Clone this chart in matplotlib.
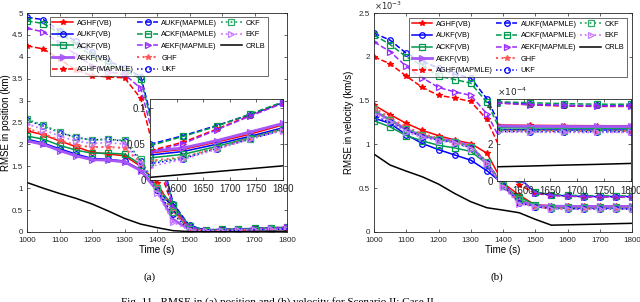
import numpy as np
import matplotlib
matplotlib.use("Agg")
import matplotlib.pyplot as plt
from matplotlib.lines import Line2D

plt.rcParams['font.family'] = ['Liberation Sans', 'DejaVu Sans']

# ---------------- data ----------------
time = [1000, 1050, 1100, 1150, 1200, 1250, 1300, 1350, 1400, 1450,
        1500, 1550, 1600, 1650, 1700, 1750, 1800]
inset_time = [1550, 1612.5, 1675, 1737.5, 1800]

labels = ['AGHF(VB)', 'AUKF(VB)', 'ACKF(VB)', 'AEKF(VB)', 'AGHF(MAPMLE)',
          'AUKF(MAPMLE)', 'ACKF(MAPMLE)', 'AEKF(MAPMLE)', 'GHF', 'UKF',
          'CKF', 'EKF', 'CRLB']

# position RMSE (km)
pos_aghf_vb = [2.31, 2.22, 2.08, 1.95, 1.82, 1.78, 1.74, 1.50, 1.12, 0.50, 0.08, 0.037, 0.041, 0.050, 0.058, 0.067, 0.076]
pos_aukf_vb = [2.12, 2.03, 1.90, 1.78, 1.68, 1.66, 1.62, 1.42, 0.98, 0.56, 0.15, 0.034, 0.038, 0.047, 0.055, 0.064, 0.072]
pos_ackf_vb = [2.19, 2.12, 1.98, 1.87, 1.80, 1.80, 1.78, 1.54, 1.00, 0.62, 0.10, 0.030, 0.034, 0.044, 0.053, 0.062, 0.070]
pos_aekf_vb = [2.08, 2.00, 1.86, 1.74, 1.65, 1.64, 1.60, 1.40, 0.95, 0.28, 0.06, 0.039, 0.043, 0.052, 0.061, 0.070, 0.078]
pos_aghf_map = [4.25, 4.18, 3.95, 3.70, 3.57, 3.54, 3.52, 3.05, 1.60, 0.55, 0.10, 0.040, 0.050, 0.065, 0.080, 0.094, 0.107]
pos_aukf_map = [4.90, 4.85, 4.60, 4.35, 4.10, 3.90, 3.75, 3.55, 2.10, 0.65, 0.14, 0.049, 0.059, 0.071, 0.083, 0.095, 0.107]
pos_ackf_map = [4.82, 4.76, 4.55, 4.28, 4.02, 3.84, 3.68, 3.50, 2.00, 0.62, 0.13, 0.047, 0.058, 0.070, 0.083, 0.096, 0.108]
pos_aekf_map = [4.65, 4.57, 4.32, 4.05, 3.80, 3.66, 3.60, 3.28, 1.85, 0.55, 0.11, 0.038, 0.048, 0.063, 0.079, 0.093, 0.106]
pos_ghf = [2.36, 2.24, 2.10, 1.98, 1.94, 1.94, 1.92, 1.58, 1.05, 0.48, 0.06, 0.026, 0.030, 0.041, 0.052, 0.062, 0.070]
pos_ukf = [2.55, 2.42, 2.27, 2.16, 2.10, 2.12, 2.07, 1.62, 0.95, 0.40, 0.06, 0.022, 0.028, 0.040, 0.051, 0.061, 0.069]
pos_ckf = [2.57, 2.44, 2.28, 2.16, 2.10, 2.12, 2.09, 1.66, 1.00, 0.45, 0.06, 0.024, 0.029, 0.041, 0.052, 0.062, 0.070]
pos_ekf = [2.47, 2.34, 2.19, 2.08, 2.02, 2.04, 2.01, 1.58, 0.90, 0.22, 0.04, 0.018, 0.026, 0.039, 0.050, 0.060, 0.068]
pos_crlb = [1.13, 1.00, 0.88, 0.77, 0.64, 0.48, 0.31, 0.18, 0.10, 0.03, 0.010, 0.003, 0.006, 0.009, 0.012, 0.016, 0.019]

# position inset (km)
ipos_aghf_vb = [0.037, 0.042, 0.052, 0.063, 0.076]
ipos_aukf_vb = [0.034, 0.039, 0.049, 0.060, 0.072]
ipos_ackf_vb = [0.030, 0.035, 0.046, 0.058, 0.070]
ipos_aekf_vb = [0.039, 0.044, 0.054, 0.066, 0.078]
ipos_aghf_map = [0.040, 0.052, 0.070, 0.089, 0.107]
ipos_aukf_map = [0.049, 0.061, 0.075, 0.090, 0.107]
ipos_ackf_map = [0.047, 0.060, 0.074, 0.091, 0.108]
ipos_aekf_map = [0.038, 0.050, 0.069, 0.088, 0.106]
ipos_ghf = [0.026, 0.031, 0.044, 0.057, 0.070]
ipos_ukf = [0.022, 0.029, 0.043, 0.056, 0.069]
ipos_ckf = [0.024, 0.030, 0.044, 0.057, 0.070]
ipos_ekf = [0.018, 0.028, 0.042, 0.056, 0.068]
ipos_crlb = [0.003, 0.007, 0.011, 0.015, 0.019]

# velocity RMSE (x1e-3 km/s)
vel_aghf_vb = [1.45, 1.34, 1.24, 1.16, 1.10, 1.05, 1.01, 0.90, 0.56, 0.42, 0.31, 0.300, 0.298, 0.297, 0.296, 0.296, 0.296]
vel_aukf_vb = [1.30, 1.24, 1.11, 1.01, 0.94, 0.88, 0.82, 0.70, 0.55, 0.37, 0.29, 0.274, 0.274, 0.273, 0.273, 0.273, 0.273]
vel_ackf_vb = [1.27, 1.20, 1.10, 1.04, 0.99, 0.96, 0.92, 0.78, 0.52, 0.40, 0.31, 0.285, 0.284, 0.283, 0.283, 0.283, 0.283]
vel_aekf_vb = [1.38, 1.28, 1.17, 1.10, 1.06, 1.04, 0.98, 0.78, 0.53, 0.35, 0.30, 0.295, 0.293, 0.292, 0.292, 0.292, 0.292]
vel_aghf_map = [2.00, 1.92, 1.78, 1.65, 1.56, 1.53, 1.49, 1.285, 0.88, 0.54, 0.44, 0.420, 0.410, 0.402, 0.400, 0.400, 0.400]
vel_aukf_map = [2.27, 2.19, 2.04, 1.95, 1.87, 1.80, 1.76, 1.52, 1.15, 0.62, 0.45, 0.422, 0.412, 0.405, 0.405, 0.405, 0.405]
vel_ackf_map = [2.25, 2.14, 2.00, 1.90, 1.78, 1.74, 1.70, 1.48, 1.10, 0.60, 0.46, 0.425, 0.420, 0.415, 0.413, 0.412, 0.412]
vel_aekf_map = [2.17, 2.06, 1.89, 1.76, 1.65, 1.60, 1.56, 1.35, 1.00, 0.60, 0.45, 0.418, 0.410, 0.405, 0.403, 0.402, 0.402]
vel_ghf = [1.42, 1.30, 1.20, 1.12, 1.07, 1.03, 0.98, 0.80, 0.52, 0.34, 0.29, 0.270, 0.269, 0.268, 0.268, 0.268, 0.268]
vel_ukf = [1.33, 1.25, 1.16, 1.09, 1.05, 1.02, 0.96, 0.79, 0.53, 0.33, 0.29, 0.265, 0.264, 0.263, 0.263, 0.263, 0.263]
vel_ckf = [1.40, 1.28, 1.18, 1.11, 1.06, 1.03, 0.97, 0.80, 0.54, 0.38, 0.30, 0.272, 0.271, 0.270, 0.270, 0.270, 0.270]
vel_ekf = [1.35, 1.26, 1.14, 1.08, 1.04, 1.02, 0.95, 0.79, 0.51, 0.32, 0.29, 0.262, 0.261, 0.260, 0.260, 0.260, 0.260]
vel_crlb = [0.889, 0.764, 0.695, 0.630, 0.547, 0.440, 0.346, 0.277, 0.250, 0.220, 0.145, 0.078, 0.082, 0.086, 0.090, 0.095, 0.099]

# velocity inset (x1e-4 km/s)
ivel_aghf_vb = [3.00, 2.98, 2.97, 2.96, 2.96]
ivel_aukf_vb = [2.75, 2.74, 2.73, 2.73, 2.73]
ivel_ackf_vb = [2.85, 2.84, 2.83, 2.83, 2.83]
ivel_aekf_vb = [2.95, 2.93, 2.92, 2.92, 2.92]
ivel_aghf_map = [4.20, 4.08, 4.02, 4.00, 4.00]
ivel_aukf_map = [4.22, 4.12, 4.05, 4.05, 4.05]
ivel_ackf_map = [4.25, 4.20, 4.15, 4.12, 4.12]
ivel_aekf_map = [4.18, 4.10, 4.05, 4.03, 4.02]
ivel_ghf = [2.70, 2.69, 2.68, 2.68, 2.68]
ivel_ukf = [2.65, 2.64, 2.63, 2.63, 2.63]
ivel_ckf = [2.72, 2.71, 2.70, 2.70, 2.70]
ivel_ekf = [2.62, 2.61, 2.60, 2.60, 2.60]
ivel_crlb = [0.75, 0.79, 0.84, 0.88, 0.93]

# ---------------- styles ----------------
RED, BLUE, GREEN, PURPLE = '#ff0000', '#0000ff', '#00994d', '#9a2bff'
styles = [
    dict(color=RED, ls='-', marker='*', lw=1.1, mfc=RED),
    dict(color=BLUE, ls='-', marker='o', lw=1.1, mfc='none'),
    dict(color=GREEN, ls='-', marker='s', lw=1.1, mfc='none'),
    dict(color='#a855f7', ls='-', marker='>', lw=2.0, mfc='none'),
    dict(color=RED, ls='--', marker='*', lw=1.1, mfc=RED),
    dict(color=BLUE, ls='--', marker='o', lw=1.1, mfc='none'),
    dict(color=GREEN, ls='--', marker='s', lw=1.1, mfc='none'),
    dict(color=PURPLE, ls='--', marker='>', lw=1.1, mfc='none'),
    dict(color='#ff5a5a', ls=':', marker='*', lw=1.5, mfc='#ff5a5a'),
    dict(color=BLUE, ls=':', marker='o', lw=1.1, mfc='none'),
    dict(color='#2eab6a', ls=':', marker='s', lw=1.3, mfc='none'),
    dict(color='#c77dff', ls=':', marker='>', lw=1.3, mfc='none'),
    dict(color='black', ls='-', marker=None, lw=1.1, mfc='none'),
]

pos_main = [pos_aghf_vb, pos_aukf_vb, pos_ackf_vb, pos_aekf_vb, pos_aghf_map,
            pos_aukf_map, pos_ackf_map, pos_aekf_map, pos_ghf, pos_ukf,
            pos_ckf, pos_ekf, pos_crlb]
pos_ins = [ipos_aghf_vb, ipos_aukf_vb, ipos_ackf_vb, ipos_aekf_vb, ipos_aghf_map,
           ipos_aukf_map, ipos_ackf_map, ipos_aekf_map, ipos_ghf, ipos_ukf,
           ipos_ckf, ipos_ekf, ipos_crlb]
vel_main = [vel_aghf_vb, vel_aukf_vb, vel_ackf_vb, vel_aekf_vb, vel_aghf_map,
            vel_aukf_map, vel_ackf_map, vel_aekf_map, vel_ghf, vel_ukf,
            vel_ckf, vel_ekf, vel_crlb]
vel_ins = [ivel_aghf_vb, ivel_aukf_vb, ivel_ackf_vb, ivel_aekf_vb, ivel_aghf_map,
           ivel_aukf_map, ivel_ackf_map, ivel_aekf_map, ivel_ghf, ivel_ukf,
           ivel_ckf, ivel_ekf, ivel_crlb]

SPINE = '#262626'
W, H = 640, 302


def px_axes(x0, y0, x1, y1):
    return [x0 / W, 1 - y1 / H, (x1 - x0) / W, (y1 - y0) / H]


def style_axes(ax, fs):
    ax.tick_params(direction='in', top=True, right=True, labelsize=fs,
                   length=2.5, width=0.5, colors=SPINE)
    ax.tick_params(axis='x', pad=3.5)
    ax.tick_params(axis='y', pad=3)
    for s in ax.spines.values():
        s.set_color(SPINE)
        s.set_linewidth(0.6)


def draw(ax, xs, series, ms=4.0):
    handles = []
    for data, st in zip(series, styles):
        h, = ax.plot(xs, data, color=st['color'], ls=st['ls'], lw=st['lw'],
                     marker=st['marker'], markersize=ms, mfc=st['mfc'],
                     mec=st['color'], mew=0.9)
        handles.append(h)
    return handles


def add_legend(ax, handles, anchor):
    blank = Line2D([], [], alpha=0)
    hs = handles + [blank, blank]
    ls = labels + ['', '']
    leg = ax.legend(hs, ls, ncol=3, loc='upper left', bbox_to_anchor=anchor,
                    borderaxespad=0, fontsize=5.35, handlelength=2.8, handletextpad=0.45,
                    columnspacing=0.5, labelspacing=0.6, frameon=True, fancybox=False,
                    edgecolor=SPINE, borderpad=0.35)
    leg.get_frame().set_linewidth(0.6)
    leg.set_zorder(10)
    return leg


fig = plt.figure(figsize=(6.4, 3.02), dpi=100)

# ---------- (a) position ----------
ax1 = fig.add_axes(px_axes(27, 13, 287, 232))
h1 = draw(ax1, time, pos_main)
ax1.set_xlim(1000, 1800)
ax1.set_ylim(0, 5)
ax1.set_xticks(range(1000, 1801, 100))
ax1.set_yticks([0, 0.5, 1, 1.5, 2, 2.5, 3, 3.5, 4, 4.5, 5])
ax1.set_yticklabels(['0', '0.5', '1', '1.5', '2', '2.5', '3', '3.5', '4', '4.5', '5'])
style_axes(ax1, 5.8)
ax1.set_xlabel('Time (s)', fontsize=7, labelpad=1)
ax1.set_ylabel('RMSE in position (km)', fontsize=7, labelpad=0.5)
add_legend(ax1, h1, (0.088, 0.982))

in1 = fig.add_axes(px_axes(150, 99, 283, 179.5))
draw(in1, inset_time, pos_ins, ms=4.0)
in1.set_xlim(1550, 1800)
in1.set_ylim(0, 0.112)
in1.set_xticks([1600, 1650, 1700, 1750, 1800])
in1.set_yticks([0, 0.05, 0.1])
in1.set_yticklabels(['0', '0.05', '0.1'])
style_axes(in1, 7)

# ---------- (b) velocity ----------
ax2 = fig.add_axes(px_axes(374, 13, 632, 232))
h2 = draw(ax2, time, vel_main)
ax2.set_xlim(1000, 1800)
ax2.set_ylim(0, 2.5)
ax2.set_xticks(range(1000, 1801, 100))
ax2.set_yticks([0, 0.5, 1, 1.5, 2, 2.5])
ax2.set_yticklabels(['0', '0.5', '1', '1.5', '2', '2.5'])
style_axes(ax2, 5.8)
ax2.set_xlabel('Time (s)', fontsize=7, labelpad=1)
ax2.set_ylabel('RMSE in velocity (km/s)', fontsize=7, labelpad=3)
ax2.text(0.0, 1.005, r'$\times10^{-3}$', transform=ax2.transAxes, fontsize=6,
         ha='left', va='bottom', color=SPINE)
add_legend(ax2, h2, (0.136, 0.977))

in2 = fig.add_axes(px_axes(496.7, 99, 630.7, 180.7))
draw(in2, inset_time, vel_ins, ms=4.0)
in2.set_xlim(1550, 1800)
in2.set_ylim(0, 4.4)
in2.set_xticks([1600, 1650, 1700, 1750, 1800])
in2.set_yticks([0, 2, 4])
style_axes(in2, 7)
in2.text(0.0, 1.01, r'$\times10^{-4}$', transform=in2.transAxes, fontsize=6.5,
         ha='left', va='bottom', color=SPINE)

# ---------- captions ----------
fig.text(150 / W, 1 - 277 / H, '(a)', family='Liberation Serif', fontsize=8,
         ha='center', va='center')
fig.text(497 / W, 1 - 277 / H, '(b)', family='Liberation Serif', fontsize=8,
         ha='center', va='center')
fig.text(279 / W, 1 - 297.5 / H,
         'Fig. 11.  RMSE in (a) position and (b) velocity for Scenario II: Case II.',
         family='Liberation Serif', fontsize=8, ha='center', va='top')

fig.savefig('out.png', dpi=100)
